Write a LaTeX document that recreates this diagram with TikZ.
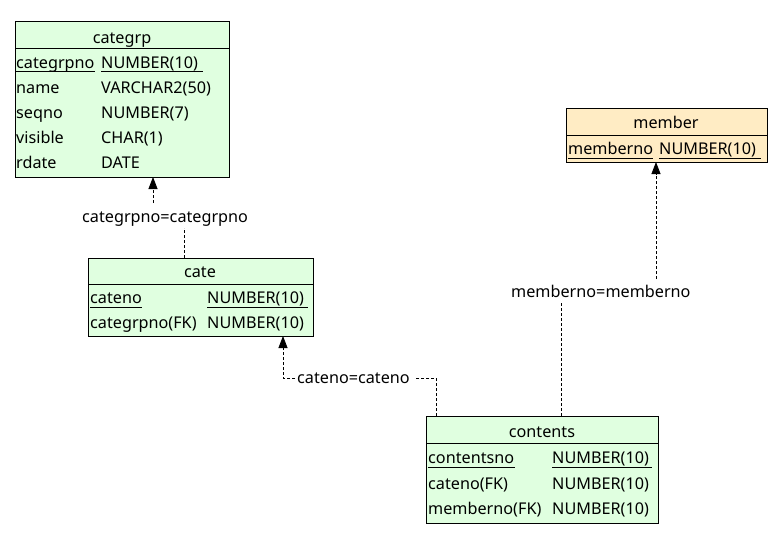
\documentclass[tikz,border=0pt]{standalone}
\usepackage{fontspec}
\setmainfont{Noto Sans}
\usetikzlibrary{arrows.meta}
\definecolor{tgreen}{RGB}{224,255,224}
\definecolor{torange}{RGB}{255,236,196}
\begin{document}
\begin{tikzpicture}[x=1pt,y=-1pt,font=\fontsize{16.2}{19}\selectfont,
  tbl/.style={draw=black,line width=1pt,inner sep=0pt,outer sep=0pt,anchor=north west},
  txt/.style={anchor=base west,inner sep=0pt},
  ttl/.style={anchor=base,inner sep=0pt},
  uline/.style={line width=0.9pt},
  rel/.style={line width=0.8pt,dash pattern=on 3pt off 2pt},
  arr/.style={-{Triangle[length=12pt,width=9pt]}},
  lbl/.style={anchor=base west,inner sep=0pt}]
\useasboundingbox[fill=white] (0,0) rectangle (782,536);

% ---------- categrp ----------
\node[tbl,fill=tgreen,minimum width=214pt,minimum height=156pt] (categrp) at (15,21) {};
\draw[line width=1pt] (15,48) -- (229,48);
\node[ttl] (categrpT) at (122,43) {categrp};
\node[txt] (g1a) at (16,68) {categrpno};
\node[txt] (g1b) at (101,68) {NUMBER(10)};
\node[txt] (g2a) at (16,93) {name};
\node[txt] (g2b) at (101,93) {VARCHAR2(50)};
\node[txt] (g3a) at (16,118) {seqno};
\node[txt] (g3b) at (101,118) {NUMBER(7)};
\node[txt] (g4a) at (16,143) {visible};
\node[txt] (g4b) at (101,143) {CHAR(1)};
\node[txt] (g5a) at (16,168) {rdate};
\node[txt] (g5b) at (101,168) {DATE};
\draw[uline] (16,71) -- (95,71);
\draw[uline] (101,71) -- (203,71);

% ---------- cate ----------
\node[tbl,fill=tgreen,minimum width=225pt,minimum height=78pt] (cate) at (88,258) {};
\draw[line width=1pt] (88,284) -- (313,284);
\node[ttl] (cateT) at (200,277) {cate};
\node[txt] (c1a) at (90,303) {cateno};
\node[txt] (c1b) at (207,303) {NUMBER(10)};
\node[txt] (c2a) at (90,328) {categrpno(FK)};
\node[txt] (c2b) at (207,328) {NUMBER(10)};
\draw[uline] (90,307) -- (142,307);
\draw[uline] (207,307) -- (308,307);

% ---------- member ----------
\node[tbl,fill=torange,minimum width=201pt,minimum height=54pt] (member) at (566,108) {};
\draw[line width=1pt] (566,135) -- (767,135);
\node[ttl] (memberT) at (666,128) {member};
\node[txt] (m1a) at (568,154) {memberno};
\node[txt] (m1b) at (659,154) {NUMBER(10)};
\draw[uline] (568,158) -- (653,158);
\draw[uline] (659,158) -- (761,158);

% ---------- contents ----------
\node[tbl,fill=tgreen,minimum width=232pt,minimum height=107pt] (contents) at (426,416) {};
\draw[line width=1pt] (426,443) -- (658,443);
\node[ttl] (contentsT) at (542,437) {contents};
\node[txt] (t1a) at (428,463) {contentsno};
\node[txt] (t1b) at (552,463) {NUMBER(10)};
\node[txt] (t2a) at (428,489) {cateno(FK)};
\node[txt] (t2b) at (552,489) {NUMBER(10)};
\node[txt] (t3a) at (428,514) {memberno(FK)};
\node[txt] (t3b) at (552,514) {NUMBER(10)};
\draw[uline] (428,467) -- (515,467);
\draw[uline] (552,467) -- (652,467);

% ---------- relation: cate -> categrp ----------
\node[lbl] (L1) at (82,222) {categrpno=categrpno};
\coordinate (r1s) at (184,258);
\coordinate (r1m) at (184,228);
\coordinate (r1n) at (153,203);
\coordinate (r1e) at (153,177);
\draw[rel] (r1s) -- (r1m);
\draw[rel,arr] (r1n) -- (r1e);

% ---------- relation: contents -> cate ----------
\node[lbl] (L2) at (297,383) {cateno=cateno};
\coordinate (r2s) at (436,416);
\coordinate (r2b) at (436,378);
\coordinate (r2m) at (415,378);
\coordinate (r2n) at (295,378);
\coordinate (r2c) at (283,378);
\coordinate (r2e) at (283,336);
\draw[rel] (r2s) -- (r2b) -- (r2m);
\draw[rel,arr] (r2n) -- (r2c) -- (r2e);

% ---------- relation: contents -> member ----------
\node[lbl] (L3) at (511,297) {memberno=memberno};
\coordinate (r3s) at (561,416);
\coordinate (r3m) at (561,303);
\coordinate (r3n) at (656,279);
\coordinate (r3e) at (656,162);
\draw[rel] (r3s) -- (r3m);
\draw[rel,arr] (r3n) -- (r3e);
\end{tikzpicture}
\end{document}
